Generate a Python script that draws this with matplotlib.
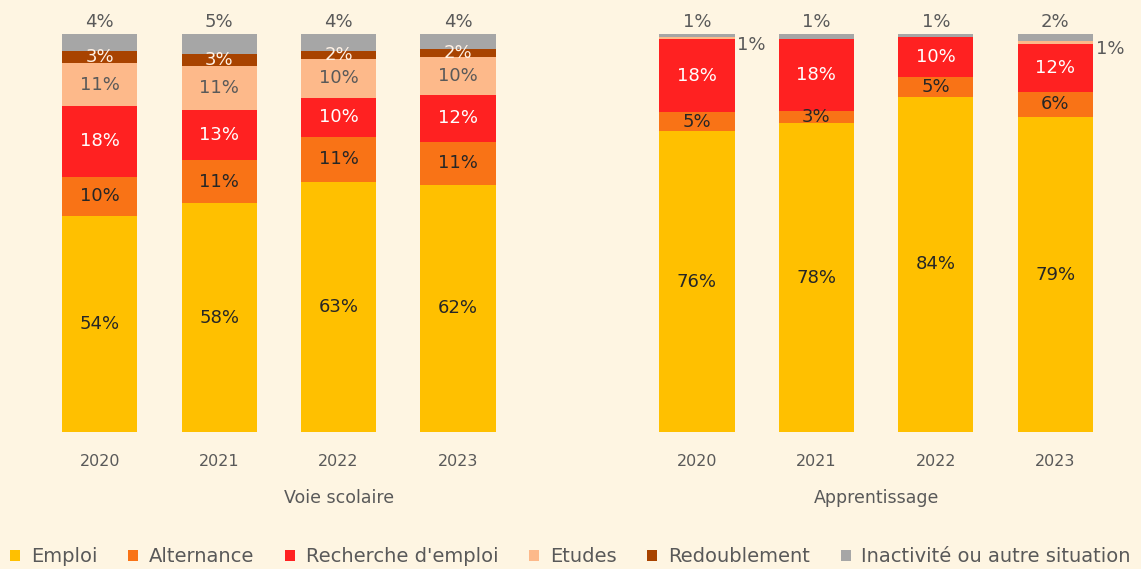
import matplotlib
matplotlib.use("Agg")
import matplotlib.pyplot as plt
from matplotlib.patches import Patch
import numpy as np

years = ["2020", "2021", "2022", "2023"]
groups = ["Voie scolaire", "Apprentissage"]
series = ["Emploi", "Alternance", "Recherche d'emploi", "Etudes", "Redoublement",
          "Inactivité ou autre situation"]

# Voie scolaire (percent)
voie_emploi = [54.3, 57.5, 62.8, 62.1]
voie_alternance = [9.8, 10.8, 11.4, 10.8]
voie_recherche = [17.8, 12.6, 9.8, 11.8]
voie_etudes = [10.8, 11.1, 9.8, 9.6]
voie_redoublement = [3.0, 3.1, 2.0, 1.9]
voie_inactivite = [4.3, 4.9, 4.2, 3.8]

# Apprentissage (percent)
app_emploi = [75.6, 77.6, 84.2, 79.1]
app_alternance = [4.8, 3.0, 4.9, 6.4]
app_recherche = [18.3, 18.2, 10.1, 12.1]
app_etudes = [0.6, 0.0, 0.0, 0.6]
app_redoublement = [0.0, 0.0, 0.0, 0.0]
app_inactivite = [0.7, 1.2, 0.8, 1.8]

colors = ["#FFC000", "#F97316", "#FF2121", "#FDB98A", "#A84300", "#A6A6A6"]
label_colors = ["#262626", "#262626", "#FFFFFF", "#595959", "#FFF2E6", "#595959"]
bg = "#FEF5E2"

plt.rcParams['font.family'] = ['DejaVu Sans']

fig = plt.figure(figsize=(11.41, 5.69), dpi=100, facecolor=bg)
ax = fig.add_axes([40/1141, 1-432/569, 1075/1141, (432-34)/569])
ax.set_facecolor(bg)

voie = [voie_emploi, voie_alternance, voie_recherche, voie_etudes, voie_redoublement, voie_inactivite]
app = [app_emploi, app_alternance, app_recherche, app_etudes, app_redoublement, app_inactivite]

pos_voie = np.arange(4)
pos_app = np.arange(5, 9)
width = 0.63
fs = 13

for data, pos, grp in [(voie, pos_voie, 0), (app, pos_app, 1)]:
    bottom = np.zeros(4)
    for si, vals in enumerate(data):
        vals = np.array(vals, dtype=float)
        ax.bar(pos, vals, width, bottom=bottom, color=colors[si], linewidth=0)
        for i, v in enumerate(vals):
            if v <= 0:
                continue
            lab = f"{int(round(v))}%"
            if si == 5:
                ax.annotate(lab, (pos[i], bottom[i] + v), xytext=(0, 2),
                            textcoords="offset points", ha="center", va="bottom",
                            fontsize=fs, color="#595959")
            elif grp == 1 and si == 3:
                ax.annotate(lab, (pos[i] + width / 2, bottom[i] + v / 2), xytext=(2, -5),
                            textcoords="offset points", ha="left", va="center",
                            fontsize=fs, color="#595959")
            else:
                ax.text(pos[i], bottom[i] + v / 2, lab, ha="center", va="center",
                        fontsize=fs, color=label_colors[si])
        bottom = bottom + vals

ax.set_xlim(-0.5, 8.5)
ax.set_ylim(0, 100)
for s in ax.spines.values():
    s.set_visible(False)
ax.set_yticks([])
ax.set_xticks(list(pos_voie) + list(pos_app))
ax.set_xticklabels(years + years, fontsize=11.5, color="#595959")
ax.tick_params(axis="x", length=0, pad=16)

ax.text(2.0, -16.5, groups[0], ha="center", va="center", fontsize=12.5, color="#595959",
        transform=ax.transData, clip_on=False)
ax.text(6.5, -16.5, groups[1], ha="center", va="center", fontsize=12.5, color="#595959",
        transform=ax.transData, clip_on=False)

handles = [Patch(facecolor=c, edgecolor="none") for c in colors]
leg = fig.legend(handles, series, loc="center", bbox_to_anchor=(0.5, 1 - 557/569), ncol=6,
                 frameon=False, fontsize=14, handlelength=0.5, handleheight=0.5,
                 handletextpad=0.55, columnspacing=1.6, borderpad=0, borderaxespad=0)
for t in leg.get_texts():
    t.set_color("#595959")

fig.savefig("out.png", dpi=100, facecolor=bg)
